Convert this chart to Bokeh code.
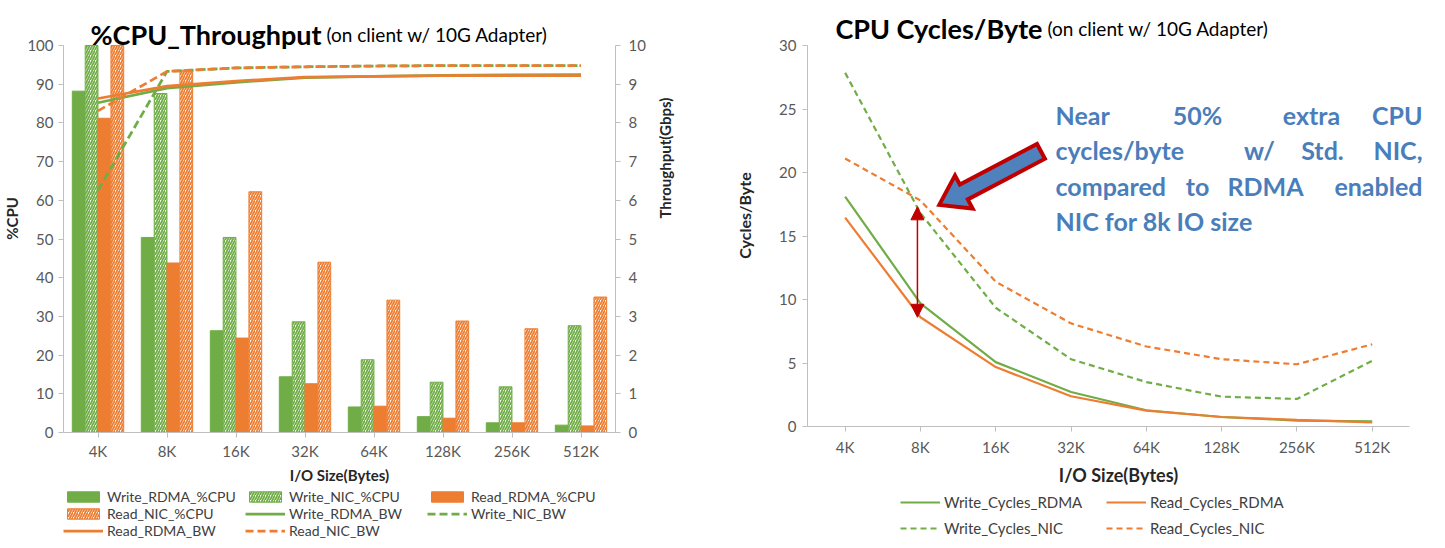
import math
from bokeh.plotting import figure
from bokeh.models import (FactorRange, Range1d, LinearAxis, Legend, LegendItem, Label,
                          Arrow, NormalHead, FixedTicker, ColumnDataSource)
from bokeh.transform import dodge
from bokeh.layouts import row, column
from bokeh.embed import file_html
from bokeh.resources import INLINE

# ---------------- data ----------------
sizes = ["4K", "8K", "16K", "32K", "64K", "128K", "256K", "512K"]

write_rdma_cpu = [88.2, 50.4, 26.3, 14.4, 6.6, 4.1, 2.5, 1.9]
write_nic_cpu = [100, 87.6, 50.4, 28.6, 18.8, 13.0, 11.8, 27.6]
read_rdma_cpu = [81.2, 43.8, 24.4, 12.6, 6.8, 3.7, 2.5, 1.7]
read_nic_cpu = [100, 93.6, 62.2, 44.0, 34.2, 28.8, 26.8, 35.0]

write_rdma_bw = [8.52, 8.90, 9.05, 9.17, 9.20, 9.23, 9.24, 9.25]
write_nic_bw = [6.26, 9.33, 9.42, 9.45, 9.47, 9.48, 9.48, 9.48]
read_rdma_bw = [8.63, 8.95, 9.08, 9.18, 9.20, 9.22, 9.22, 9.22]
read_nic_bw = [8.31, 9.33, 9.42, 9.45, 9.47, 9.48, 9.48, 9.48]

write_cycles_rdma = [18.1, 9.7, 5.07, 2.72, 1.28, 0.75, 0.47, 0.40]
read_cycles_rdma = [16.45, 8.6, 4.68, 2.38, 1.25, 0.75, 0.52, 0.33]
write_cycles_nic = [27.85, 16.8, 9.35, 5.3, 3.5, 2.35, 2.17, 5.17]
read_cycles_nic = [21.1, 17.8, 11.4, 8.12, 6.3, 5.3, 4.9, 6.47]

cpu_ticks = [0, 10, 20, 30, 40, 50, 60, 70, 80, 90, 100]
bw_ticks = [0, 1, 2, 3, 4, 5, 6, 7, 8, 9, 10]
cyc_ticks = [0, 5, 10, 15, 20, 25, 30]

annot_top = 17.3             # top of the red double arrow (cycles/byte)
callout_tip = (1.25, 17.45)  # tip of the block arrow (x index, cycles/byte)

# ---------------- style ----------------
GREEN = "#70ad47"
ORANGE = "#ed7d31"
AXIS = "#bfbfbf"
TICKTXT = "#595959"
LBL = "#262626"
LEGTXT = "#404040"
FONT = "Lato"
HP = 488           # chart figure height
HL = 52            # legend strip height
W1, W2 = 732, 697
TOP = 4            # frame top (pixel row) for both charts
ZERO_Y = 432       # pixel row of the value axis zero / x axis (both charts)
BOT = HP - ZERO_Y


def style_axes(p, lab_size="15px"):
    for ax in p.axis:
        ax.axis_line_color = AXIS
        ax.major_tick_line_color = AXIS
        ax.minor_tick_line_color = None
        ax.major_tick_out = 5
        ax.major_tick_in = 0
        ax.major_label_text_font = FONT
        ax.major_label_text_font_size = "15px"
        ax.major_label_text_color = TICKTXT
        ax.axis_label_text_font = FONT
        ax.axis_label_text_font_style = "bold"
        ax.axis_label_text_font_size = lab_size
        ax.axis_label_text_color = LBL
    p.xgrid.visible = False
    p.ygrid.visible = False
    p.outline_line_color = None


def legend_strip(width, left, right):
    f = figure(width=width, height=HL, x_range=Range1d(0, 1), y_range=Range1d(0, 1),
               x_axis_type=None, y_axis_type=None, output_backend="svg",
               toolbar_location=None, min_border_left=left, min_border_right=right,
               min_border_top=0, min_border_bottom=0)
    f.outline_line_color = None
    return f


# ================= left chart =================
L_LEFT = 56
L_RIGHT = W1 - 615
L_TOP_Y = 45                # pixel row of value 100
ppu1 = (ZERO_Y - L_TOP_Y) / 100.0
cpu_end = 100 + (L_TOP_Y - TOP) / ppu1

p1 = figure(x_range=FactorRange(factors=sizes), y_range=Range1d(0, cpu_end),
            width=W1, height=HP, output_backend="svg", toolbar_location=None,
            min_border_left=L_LEFT, min_border_right=L_RIGHT,
            min_border_top=TOP, min_border_bottom=BOT)
p1.extra_y_ranges = {"bw": Range1d(0, cpu_end / 10.0)}

src1 = ColumnDataSource(dict(size=sizes, w_rdma=write_rdma_cpu, w_nic=write_nic_cpu,
                             r_rdma=read_rdma_cpu, r_nic=read_nic_cpu,
                             w_rdma_bw=write_rdma_bw, w_nic_bw=write_nic_bw,
                             r_rdma_bw=read_rdma_bw, r_nic_bw=read_nic_bw))
bw = 0.185
hatch = dict(fill_color="white", hatch_pattern="/", hatch_scale=5, hatch_weight=1.8,
             line_width=1)
solid_g = dict(fill_color=GREEN, line_color=GREEN)
solid_o = dict(fill_color=ORANGE, line_color=ORANGE)
hatch_g = dict(hatch_color=GREEN, line_color=GREEN, **hatch)
hatch_o = dict(hatch_color=ORANGE, line_color=ORANGE, **hatch)

p1.vbar(x=dodge("size", -0.28, range=p1.x_range), top="w_rdma", width=bw, source=src1, **solid_g)
p1.vbar(x=dodge("size", -0.093, range=p1.x_range), top="w_nic", width=bw, source=src1, **hatch_g)
p1.vbar(x=dodge("size", 0.093, range=p1.x_range), top="r_rdma", width=bw, source=src1, **solid_o)
p1.vbar(x=dodge("size", 0.28, range=p1.x_range), top="r_nic", width=bw, source=src1, **hatch_o)

line_w = dict(line_width=2.75)
p1.line(x="size", y="w_rdma_bw", source=src1, y_range_name="bw", line_color=GREEN, **line_w)
p1.line(x="size", y="w_nic_bw", source=src1, y_range_name="bw", line_color=GREEN,
        line_dash="8 4", **line_w)
p1.line(x="size", y="r_rdma_bw", source=src1, y_range_name="bw", line_color=ORANGE, **line_w)
p1.line(x="size", y="r_nic_bw", source=src1, y_range_name="bw", line_color=ORANGE,
        line_dash="8 4", **line_w)

p1.yaxis.ticker = FixedTicker(ticks=cpu_ticks)
p1.yaxis.bounds = (0, 100)
p1.yaxis.axis_label = "%CPU"
p1.yaxis.major_label_standoff = 5
p1.yaxis.axis_label_standoff = 3
p1.xaxis.axis_label = "I/O Size(Bytes)"
p1.xaxis.major_label_standoff = 4
p1.xaxis.axis_label_standoff = 3
rax = LinearAxis(y_range_name="bw", axis_label="Throughput(Gbps)",
                 ticker=FixedTicker(ticks=bw_ticks), bounds=(0, 10))
rax.major_label_standoff = 8
rax.axis_label_standoff = 16
try:
    rax.axis_label_orientation = math.pi / 2
except Exception:
    pass
p1.add_layout(rax, "right")
style_axes(p1)

fl = 8 + L_LEFT  # page x of frame left
p1.add_layout(Label(x=322 - fl, y=ZERO_Y - 34, x_units="screen", y_units="screen",
                    text="%CPU_Throughput", text_font=FONT, text_font_style="bold",
                    text_font_size="27px", text_align="right", text_baseline="alphabetic",
                    text_color="#000000"))
p1.add_layout(Label(x=327 - fl, y=ZERO_Y - 34, x_units="screen", y_units="screen",
                    text="(on client w/ 10G Adapter)", text_font=FONT,
                    text_font_size="19px", text_align="left", text_baseline="alphabetic",
                    text_color="#000000"))

# legend strip for the left chart: legend keys share the chart's styles and sit
# outside the strip's visible range, so only the legend itself is drawn
lf1 = legend_strip(W1, L_LEFT, L_RIGHT)
kx, ky = [-5, -4], [0, 0]
k1 = lf1.vbar(x=kx[:1], top=ky[:1], width=0.1, **solid_g)
k2 = lf1.vbar(x=kx[:1], top=ky[:1], width=0.1, **hatch_g)
k3 = lf1.vbar(x=kx[:1], top=ky[:1], width=0.1, **solid_o)
k4 = lf1.vbar(x=kx[:1], top=ky[:1], width=0.1, **hatch_o)
k5 = lf1.line(x=kx, y=ky, line_color=GREEN, **line_w)
k6 = lf1.line(x=kx, y=ky, line_color=GREEN, line_dash="8 4", **line_w)
k7 = lf1.line(x=kx, y=ky, line_color=ORANGE, **line_w)
k8 = lf1.line(x=kx, y=ky, line_color=ORANGE, line_dash="8 4", **line_w)
leg1 = Legend(items=[
    LegendItem(label="Write_RDMA_%CPU", renderers=[k1]),
    LegendItem(label="Write_NIC_%CPU", renderers=[k2]),
    LegendItem(label="Read_RDMA_%CPU", renderers=[k3]),
    LegendItem(label="Read_NIC_%CPU", renderers=[k4]),
    LegendItem(label="Write_RDMA_BW", renderers=[k5]),
    LegendItem(label="Write_NIC_BW", renderers=[k6]),
    LegendItem(label="Read_RDMA_BW", renderers=[k7]),
    LegendItem(label="Read_NIC_BW", renderers=[k8]),
], location="top_left", orientation="horizontal", ncols=3,
    glyph_width=40, glyph_height=13, label_height=17, label_width=138,
    label_standoff=4, spacing=0, padding=0, margin=0,
    border_line_color=None, background_fill_alpha=0,
    label_text_font=FONT, label_text_font_size="14px", label_text_color=LEGTXT)
lf1.add_layout(leg1)

# ================= right chart =================
R_LEFT, R_RIGHT = 70, 0
R_TOP_Y = 45.6              # pixel row of value 30
fw2 = W2 - R_LEFT - R_RIGHT
cat_px = 75.9
x_end = -0.5 + fw2 / cat_px
ppu2 = (ZERO_Y - R_TOP_Y) / 30.0
cyc_end = 30 + (R_TOP_Y - TOP) / ppu2

p2 = figure(x_range=Range1d(-0.5, x_end), y_range=Range1d(0, cyc_end),
            width=W2, height=HP, output_backend="svg", toolbar_location=None,
            min_border_left=R_LEFT, min_border_right=R_RIGHT,
            min_border_top=TOP, min_border_bottom=BOT)
xs = list(range(len(sizes)))
src2 = ColumnDataSource(dict(x=xs, wr=write_cycles_rdma, rr=read_cycles_rdma,
                             wn=write_cycles_nic, rn=read_cycles_nic))
line_c = dict(line_width=2.2)
p2.line(x="x", y="wr", source=src2, line_color=GREEN, **line_c)
p2.line(x="x", y="rr", source=src2, line_color=ORANGE, **line_c)
p2.line(x="x", y="wn", source=src2, line_color=GREEN, line_dash="6 4", **line_c)
p2.line(x="x", y="rn", source=src2, line_color=ORANGE, line_dash="6 4", **line_c)

p2.xaxis.ticker = FixedTicker(ticks=xs)
p2.xaxis.bounds = (-0.5, len(sizes) - 0.5)
p2.xaxis.major_label_overrides = {i: s for i, s in enumerate(sizes)}
p2.xaxis.axis_label = "I/O Size(Bytes)"
p2.xaxis.major_label_standoff = 6
p2.xaxis.axis_label_standoff = 5
p2.yaxis.ticker = FixedTicker(ticks=cyc_ticks)
p2.yaxis.bounds = (0, 30)
p2.yaxis.axis_label = "Cycles/Byte"
p2.yaxis.major_label_standoff = 6
p2.yaxis.axis_label_standoff = 22
style_axes(p2)
p2.xaxis.axis_label_text_font_size = "18px"
p2.yaxis.axis_label_text_font_size = "16px"

fl2 = 8 + W1 + R_LEFT  # page x of right frame left

# red double-headed arrow at 8K
i8 = sizes.index("8K")
p2.add_layout(Arrow(start=NormalHead(size=13, fill_color="#c00000", line_color="#c00000"),
                    end=NormalHead(size=13, fill_color="#c00000", line_color="#c00000"),
                    x_start=i8 - 0.04, y_start=read_cycles_rdma[i8],
                    x_end=i8 - 0.04, y_end=annot_top,
                    line_color="#c00000", line_width=1.5))

# block call-out arrow
ang = math.atan2(54, 102)
ux, uy = math.cos(ang), math.sin(ang)
nx, ny = -uy, ux
AL, AHL, AHW, ASW = 116, 28, 19, 8.5
pts = [(0, 0),
       (AHL * ux + AHW * nx, AHL * uy + AHW * ny),
       (AHL * ux + ASW * nx, AHL * uy + ASW * ny),
       (AL * ux + ASW * nx, AL * uy + ASW * ny),
       (AL * ux - ASW * nx, AL * uy - ASW * ny),
       (AHL * ux - ASW * nx, AHL * uy - ASW * ny),
       (AHL * ux - AHW * nx, AHL * uy - AHW * ny)]
p2.patch([callout_tip[0] + a / cat_px for a, b in pts], [callout_tip[1] + b / ppu2 for a, b in pts],
         fill_color="#4f81bd", line_color="#c00000", line_width=4, line_join="miter")

# titles
p2.add_layout(Label(x=1045 - fl2, y=ZERO_Y - 34, x_units="screen", y_units="screen",
                    text="CPU Cycles/Byte", text_font=FONT, text_font_style="bold",
                    text_font_size="27px", text_align="right", text_baseline="alphabetic",
                    text_color="#000000"))
p2.add_layout(Label(x=1050 - fl2, y=ZERO_Y - 34, x_units="screen", y_units="screen",
                    text="(on client w/ 10G Adapter)", text_font=FONT,
                    text_font_size="19px", text_align="left", text_baseline="alphabetic",
                    text_color="#000000"))

# justified call-out text
BLUE = "#4a7ebb"
RX = 1425
words = [
    (120.0, [("Near", "left", 1058), ("50%", "center", 1200), ("extra", "center", 1314), ("CPU", "right", RX)]),
    (155.5, [("cycles/byte", "left", 1058), ("w/", "center", 1262), ("Std.", "center", 1325), ("NIC,", "right", RX)]),
    (191.0, [("compared", "left", 1058), ("to", "center", 1200), ("RDMA", "center", 1268), ("enabled", "right", RX)]),
    (226.5, [("NIC for 8k IO size", "left", 1058)]),
]
for base, ws in words:
    for txt, al, px in ws:
        p2.add_layout(Label(x=px - fl2, y=ZERO_Y - base,
                            x_units="screen", y_units="screen", text=txt,
                            text_font=FONT, text_font_style="bold", text_font_size="25px",
                            text_color=BLUE, text_align=al, text_baseline="alphabetic"))

lf2 = legend_strip(W2, R_LEFT, R_RIGHT)
m1 = lf2.line(x=kx, y=ky, line_color=GREEN, **line_c)
m2 = lf2.line(x=kx, y=ky, line_color=ORANGE, **line_c)
m3 = lf2.line(x=kx, y=ky, line_color=GREEN, line_dash="6 4", **line_c)
m4 = lf2.line(x=kx, y=ky, line_color=ORANGE, line_dash="6 4", **line_c)
leg2 = Legend(items=[
    LegendItem(label="Write_Cycles_RDMA", renderers=[m1]),
    LegendItem(label="Read_Cycles_RDMA", renderers=[m2]),
    LegendItem(label="Write_Cycles_NIC", renderers=[m3]),
    LegendItem(label="Read_Cycles_NIC", renderers=[m4]),
], location=(903 - fl2, 1), orientation="horizontal", ncols=2,
    glyph_width=40, glyph_height=14, label_height=22, label_width=158,
    label_standoff=4, spacing=4, padding=0, margin=0,
    border_line_color=None, background_fill_alpha=0,
    label_text_font=FONT, label_text_font_size="15px", label_text_color=LEGTXT)
lf2.add_layout(leg2)

layout = row(column(p1, lf1), column(p2, lf2))
open("out.html", "w").write(file_html(layout, INLINE))
